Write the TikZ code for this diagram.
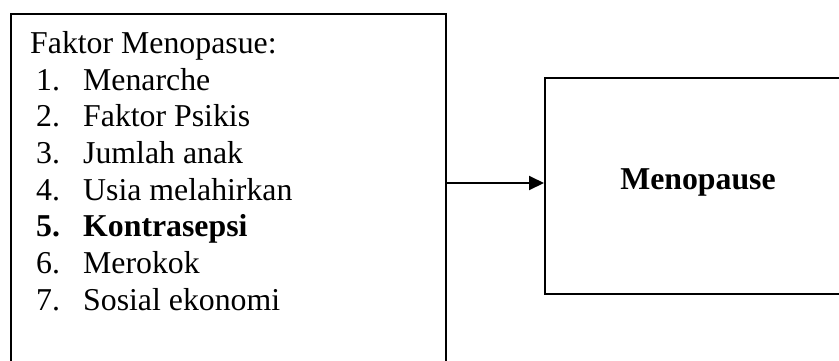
\documentclass[tikz,border=0pt]{standalone}
\usepackage{fontspec}
\setmainfont{Liberation Serif}
\usetikzlibrary{arrows.meta}
\tikzset{
  frame/.style={draw=black, line width=2pt, inner sep=0pt},
  txt/.style={anchor=base west, inner sep=0pt, font=\fontsize{31.8}{36.7}\selectfont},
  num/.style={txt},
  link/.style={line width=2pt, -{Triangle[length=15pt,width=14pt]}}
}
\begin{document}
\begin{tikzpicture}[x=1pt,y=-1pt]
\useasboundingbox (0,0) rectangle (839,360);
% boxes
\node[frame, minimum width=435pt, minimum height=387pt, anchor=north west] (factors) at (10,13) {};
\node[frame, minimum width=308pt, minimum height=216pt, anchor=north west] (outcome) at (544,77) {};
% header and list
\node[txt] (head) at (30,53.3) {Faktor Menopasue:};
\node[num] (n1) at (36,90) {1.};      \node[txt] (t1) at (83,90) {Menarche};
\node[num] (n2) at (36,126.7) {2.};   \node[txt] (t2) at (83,126.7) {Faktor Psikis};
\node[num] (n3) at (36,163.3) {3.};   \node[txt] (t3) at (83,163.3) {Jumlah anak};
\node[num] (n4) at (36,200) {4.};     \node[txt] (t4) at (83,200) {Usia melahirkan};
\node[num] (n5) at (36,236.7) {\bfseries 5.}; \node[txt] (t5) at (83,236.7) {\bfseries Kontrasepsi};
\node[num] (n6) at (36,273.3) {6.};   \node[txt] (t6) at (83,273.3) {Merokok};
\node[num] (n7) at (36,310) {7.};     \node[txt] (t7) at (83,310) {Sosial ekonomi};
% outcome text
\node[txt, anchor=base] (meno) at (698,189.3) {\bfseries Menopause};
% connector
\coordinate (mid) at (544,183);
\draw[link] (factors.east |- mid) -- (outcome.west |- mid);
\end{tikzpicture}
\end{document}
